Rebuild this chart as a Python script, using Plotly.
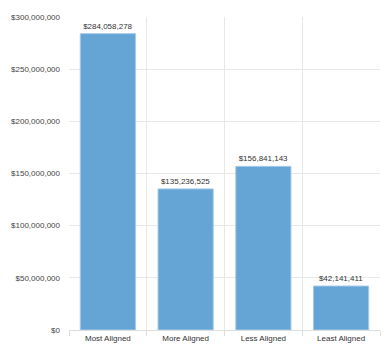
import plotly.graph_objects as go

categories = ["Most Aligned", "More Aligned", "Less Aligned", "Least Aligned"]
values = [284058278, 135236525, 156841143, 42141411]
tick_vals = [0, 50000000, 100000000, 150000000, 200000000, 250000000, 300000000]
tick_text = ["$0", "$50,000,000", "$100,000,000", "$150,000,000", "$200,000,000", "$250,000,000", "$300,000,000"]

labels = ["${:,}".format(v) for v in values]

fig = go.Figure(go.Bar(
    x=categories, y=values, text=labels, textposition="outside",
    textfont=dict(size=8, color="#333333"),
    marker=dict(color="#64a5d5", line=dict(color="#a9c9ea", width=1)),
    width=0.71, cliponaxis=False,
))

fig.update_layout(
    width=391, height=354,
    margin=dict(l=66, r=11, t=17, b=23),
    paper_bgcolor="white", plot_bgcolor="white",
    font=dict(family="Liberation Sans, Arial, sans-serif", size=8, color="#444444"),
    showlegend=False,
    xaxis=dict(type="category", tickson="boundaries", showgrid=True, gridcolor="#e8e8e8",
               ticks="outside", ticklen=5, tickcolor="#dddddd", showline=True, linecolor="#dddddd",
               tickfont=dict(size=8, color="#333333"), range=[-0.5, 3.5]),
    yaxis=dict(range=[0, 300000000], tickvals=tick_vals, ticktext=tick_text,
               showgrid=True, gridcolor="#e8e8e8", zeroline=False, ticks="", ticklabelstandoff=8,
               tickfont=dict(size=8, color="#444444")),
)

fig.write_html("out.html")
